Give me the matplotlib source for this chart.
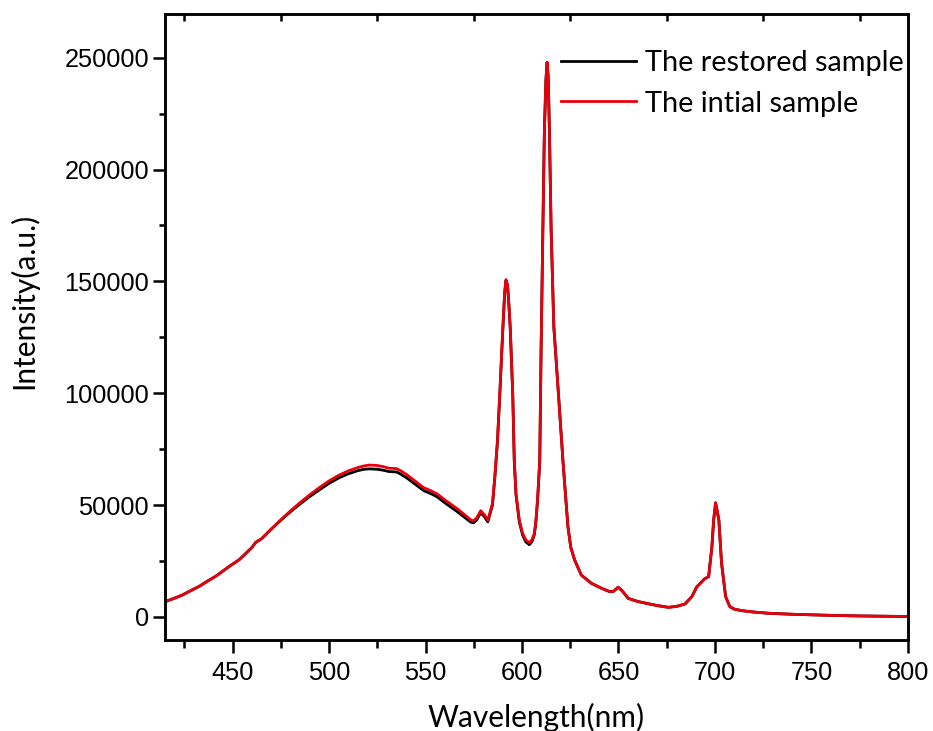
import matplotlib
matplotlib.use('Agg')
import matplotlib.pyplot as plt
import numpy as np

# wavelength (nm) and intensity
wavelength = [415, 420, 424, 428, 433, 437, 441.5, 445, 448.5, 453.5, 457, 460,
              462, 465, 470, 475, 480, 485, 490, 495, 500, 505, 510, 515, 518,
              521, 525, 528, 531, 533, 535, 537, 540, 545, 549, 552.6, 556, 561,
              565, 570, 573.4, 574.8, 576.5, 578.6, 580.5, 582.3, 584.7, 585.9,
              587.3, 588.5, 589.3, 590.1, 591, 591.7, 592.5, 593.2, 593.9, 595.2,
              596, 596.9, 598.6, 600.3, 602, 603.8, 605.2, 606.4, 607.2, 608.1,
              609.2, 609.9, 610.8, 611.6, 612.4, 613, 613.6, 614.2, 615.1, 616.5,
              618, 619.5, 621.2, 622.5, 623.8, 625.3, 627.3, 630.7, 636, 641,
              645.5, 647.5, 649.8, 652, 655, 660, 665.5, 670, 675.8, 680, 684.5,
              688, 690.6, 692.4, 694.5, 696.7, 698.4, 699.3, 700.3, 701.1, 702,
              703.4, 705.5, 707.7, 710, 714, 720, 727.8, 740, 750, 762.6, 775, 790,
              800]

initial = [6800, 8400, 9800, 11600, 13800, 16000, 18300, 20500, 22700, 25600,
           28500, 31000, 33300, 34900, 39200, 43400, 47400, 51100, 54600, 57800,
           60800, 63300, 65300, 66800, 67500, 67900, 67700, 67200, 66500, 66400,
           66300, 65400, 63800, 60500, 57800, 56500, 55000, 51700, 49300, 45900,
           43400, 42900, 44200, 47500, 45700, 43300, 50700, 62600, 79000, 100000,
           115000, 129600, 145000, 150800, 148500, 140000, 129600, 100000, 70000,
           55200, 43300, 37400, 34400, 33200, 34500, 37400, 43000, 53000, 70000,
           120000, 172800, 217400, 240000, 247900, 241000, 217400, 172800,
           129600, 110800, 91800, 70000, 55000, 40300, 31000, 25400, 18750,
           15000, 12900, 11300, 11500, 13300, 11600, 8300, 6900, 5900, 5100,
           4300, 4700, 5800, 9100, 13500, 15000, 17000, 18000, 31400, 43300,
           51000, 47500, 43300, 24000, 9100, 4600, 3500, 2800, 2200, 1650, 1200,
           950, 650, 450, 300, 200]

restored = [6800, 8400, 9800, 11600, 13800, 16000, 18300, 20500, 22700, 25600,
            28500, 31000, 33300, 34900, 39200, 43200, 47000, 50500, 53800, 56800,
            59700, 62100, 64000, 65400, 66000, 66200, 66000, 65600, 65000, 64900,
            64800, 63900, 62300, 59100, 56500, 55200, 53700, 50400, 48000, 44700,
            42400, 42100, 43300, 46600, 44800, 42500, 50000, 62000, 78500, 99500,
            114500, 129000, 144500, 150300, 148000, 139500, 129000, 99500, 69500,
            54500, 42500, 36600, 33500, 32300, 33700, 36800, 42400, 52500, 69700,
            120000, 172800, 217400, 240000, 247900, 241000, 217400, 172800,
            129600, 110800, 91800, 70000, 55000, 40300, 31000, 25400, 18750,
            15000, 12900, 11300, 11500, 13300, 11600, 8300, 6900, 5900, 5100,
            4300, 4700, 5800, 9100, 13500, 15000, 17000, 18000, 31400, 43300,
            51000, 47500, 43300, 24000, 9100, 4600, 3500, 2800, 2200, 1650, 1200,
            950, 650, 450, 300, 200]

x_major = [450, 500, 550, 600, 650, 700, 750, 800]
x_minor = [425, 475, 525, 575, 625, 675, 725, 775]
y_major = [0, 50000, 100000, 150000, 200000, 250000]
y_minor = [25000, 75000, 125000, 175000, 225000]

fig = plt.figure(figsize=(9.33, 7.31), dpi=100)
ax = fig.add_axes([0.1768, 0.1245, 0.7964, 0.8563])

ax.plot(wavelength, restored, color='black', lw=2.0, label='The restored sample')
ax.plot(wavelength, initial, color='#e8000b', lw=2.0, label='The intial sample')

ax.set_xlim(415, 800)
ax.set_ylim(-10300, 269500)
ax.set_xticks(x_major)
ax.set_xticks(x_minor, minor=True)
ax.set_yticks(y_major)
ax.set_yticks(y_minor, minor=True)

for s in ax.spines.values():
    s.set_linewidth(1.8)

ax.tick_params(which='both', direction='out', width=1.8, top=False, right=False)
ax.tick_params(axis='y', which='major', length=8.5, pad=3, labelsize=18.3)
ax.tick_params(axis='y', which='minor', length=4.3)
ax.tick_params(axis='x', which='major', length=9, pad=6, labelsize=18.3)
ax.tick_params(axis='x', which='minor', length=5.5)
for lab in ax.get_xticklabels() + ax.get_yticklabels():
    lab.set_fontfamily('Liberation Sans')

# top axis only carries inward ticks at the half steps
ax2 = ax.twiny()
ax2.set_xlim(ax.get_xlim())
ax2.set_xticks(x_minor)
ax2.tick_params(axis='x', direction='in', length=5, width=1.8,
                labeltop=False, top=True, bottom=False)
for s in ax2.spines.values():
    s.set_linewidth(1.8)

ax.set_xlabel('Wavelength(nm)', fontsize=21.5, fontfamily='Lato')
ax.set_ylabel('Intensity(a.u.)', fontsize=21.5, fontfamily='Lato')
ax.xaxis.set_label_coords(0.5, -0.10)
ax.yaxis.set_label_coords(-0.171, 0.5415)

ax.legend(loc='upper right', bbox_to_anchor=(1.017, 0.97), frameon=False,
          prop={'family': 'Lato', 'size': 20.8}, handlelength=2.6,
          handletextpad=0.3, labelspacing=0.5, borderaxespad=0.2)

fig.savefig('out.png', dpi=100)
